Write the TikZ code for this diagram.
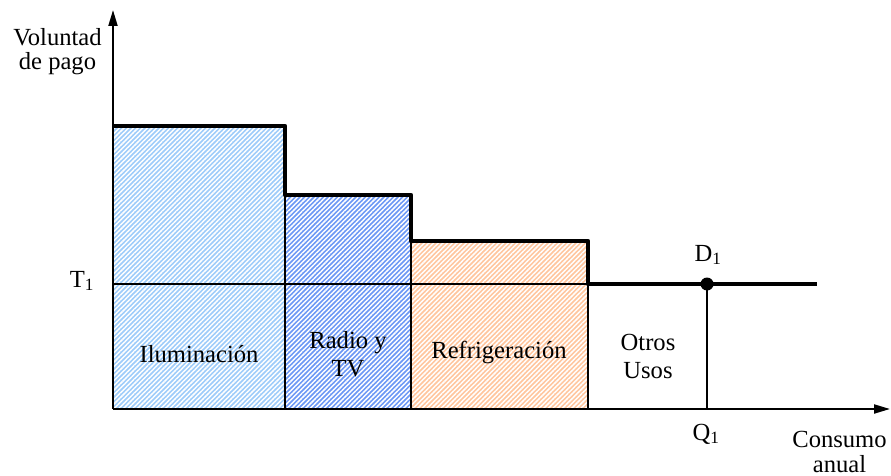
\documentclass[tikz,border=0pt]{standalone}
\usepackage{fontspec}
\setmainfont{Liberation Serif}
\usetikzlibrary{patterns.meta,arrows.meta}
\definecolor{lightblue}{RGB}{158,204,250}
\definecolor{midblue}{RGB}{108,152,245}
\definecolor{peach}{RGB}{255,198,158}
\tikzset{
  hatch/.style={pattern={Lines[angle=45,distance=3.3pt,line width=1.5pt]},pattern color=white},
  axis/.style={line width=2pt,-{Triangle[length=16pt,width=9pt]}},
  thinline/.style={line width=1.5pt},
  demand/.style={line width=4.2pt,line join=round},
  lbl/.style={font=\fontsize{24.6}{28}\selectfont,inner sep=0pt,anchor=base,align=center},
}
\begin{document}
\begin{tikzpicture}[x=1pt,y=-1pt]
\useasboundingbox (0,0) rectangle (891,476);
% key points
\coordinate (O) at (113,409);
\coordinate (ytop) at (113,10);
\coordinate (xend) at (890,409);
% hatched areas under each step
\fill[lightblue] (113,126) rectangle (285,409);
\fill[hatch] (113,126) rectangle (285,409);
\fill[midblue] (285,195) rectangle (411,409);
\fill[hatch] (285,195) rectangle (411,409);
\fill[peach] (411,241) rectangle (588,409);
\fill[hatch] (411,241) rectangle (588,409);
% thin grid lines
\coordinate (t1l) at (113,284);
\coordinate (t1r) at (588,284);
\draw[thinline] (t1l) -- (t1r);
\draw[thinline] (285,409) -- (285,195);
\draw[thinline] (411,409) -- (411,241);
\draw[thinline] (588,409) -- (588,284);
% axes
\draw[axis] (O) -- (ytop);
\draw[axis] (O) -- (xend);
% demand curve
\draw[demand] (113,126) -- (285,126) -- (285,195) -- (411,195) -- (411,241) -- (588,241) -- (588,284) -- (817,284);
% point D1 and its projection
\coordinate (D) at (707,284);
\coordinate (Q) at (707,409);
\draw[thinline] (D) -- (Q);
\fill (D) circle (6.5pt);
% labels (base anchor sits on the last line)
\node[lbl] (yl) at (57.5,70) {Voluntad\\[-4pt]de pago};
\node[lbl] (xl) at (839.5,472) {Consumo\\[-3pt]anual};
\node[lbl] (t1) at (82,287) {T\textsubscript{1}};
\node[lbl] (d1) at (708,261) {D\textsubscript{1}};
\node[lbl] (q1) at (706,440) {Q\textsubscript{1}};
\node[lbl] (ilu) at (199,362) {Iluminación};
\node[lbl] (rad) at (348,376) {Radio y\\TV};
\node[lbl] (ref) at (499,358) {Refrigeración};
\node[lbl] (otr) at (648,378) {Otros\\Usos};
\end{tikzpicture}
\end{document}
